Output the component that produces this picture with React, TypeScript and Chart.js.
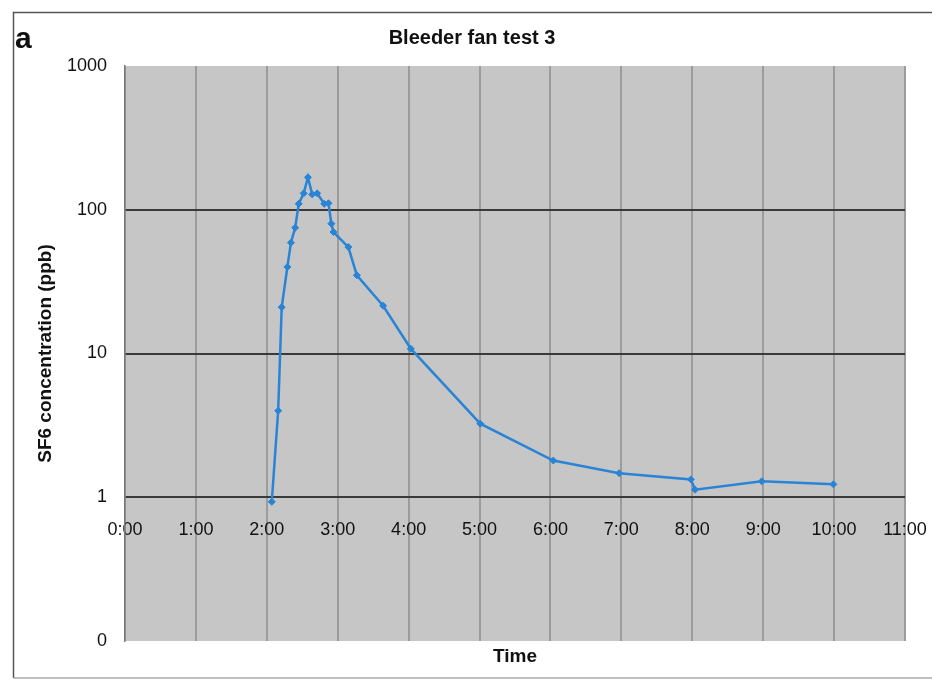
import React, { useEffect, useRef } from 'react';
import { Chart, registerables } from 'chart.js';

Chart.register(...registerables);

const TITLE = 'Bleeder fan test 3';
const PANEL_LABEL = 'a';
const Y_TITLE = 'SF6 concentration (ppb)';
const X_TITLE = 'Time';

// elapsed time in hours
const timeHours = [
  2.07, 2.16, 2.21, 2.29, 2.34, 2.4, 2.45, 2.52, 2.58, 2.64, 2.71, 2.81, 2.87,
  2.91, 2.94, 3.15, 3.27, 3.64, 4.03, 5.01, 6.04, 6.97, 7.98, 8.04, 8.98, 9.99,
];
// SF6 concentration in ppb
const sf6Ppb = [
  0.93, 4.0, 21, 40, 59, 75, 110, 130, 168, 128, 130, 110, 111,
  80, 70, 55, 35, 21.5, 10.8, 3.25, 1.8, 1.47, 1.33, 1.13, 1.29, 1.23,
];

const xTickValues = [0, 1, 2, 3, 4, 5, 6, 7, 8, 9, 10, 11];
const xTickLabels = ['0:00', '1:00', '2:00', '3:00', '4:00', '5:00', '6:00', '7:00', '8:00', '9:00', '10:00', '11:00'];
const yTickValues = [0.1, 1, 10, 100, 1000];
const yTickLabels = ['0', '1', '10', '100', '1000'];
const yMajorLines = [1, 10, 100];

const FONT = 'Liberation Sans, Arial, Helvetica, sans-serif';
const W = 932;
const H = 682;

const decorPlugin = {
  id: 'decor',
  beforeDraw(chart: any) {
    const { ctx, chartArea } = chart;
    ctx.save();
    ctx.fillStyle = '#c6c6c6';
    ctx.fillRect(chartArea.left, chartArea.top, chartArea.right - chartArea.left, chartArea.bottom - chartArea.top);
    ctx.restore();
  },
  afterDraw(chart: any) {
    const { ctx } = chart;
    ctx.save();
    ctx.strokeStyle = '#555';
    ctx.lineWidth = 1.5;
    ctx.beginPath();
    ctx.moveTo(W + 5, 12.5);
    ctx.lineTo(13.5, 12.5);
    ctx.lineTo(13.5, 678);
    ctx.stroke();
    ctx.strokeStyle = '#aaa';
    ctx.beginPath();
    ctx.moveTo(13.5, 678);
    ctx.lineTo(W + 5, 678);
    ctx.stroke();
    ctx.fillStyle = '#111';
    ctx.font = `bold 30px ${FONT}`;
    ctx.textBaseline = 'alphabetic';
    ctx.textAlign = 'left';
    ctx.fillText(PANEL_LABEL, 15, 48);
    ctx.font = `bold 20px ${FONT}`;
    ctx.textAlign = 'center';
    ctx.textBaseline = 'middle';
    ctx.fillText(TITLE, 472, 38);
    ctx.restore();
  },
};

export default function App() {
  const canvasRef = useRef<HTMLCanvasElement | null>(null);

  useEffect(() => {
    document.body.style.margin = '0';
    document.body.style.overflow = 'hidden';
    const canvas = canvasRef.current;
    if (!canvas) return;
    Chart.defaults.font.family = FONT;
    const chart = new Chart(canvas, {
      type: 'line',
      data: {
        datasets: [
          {
            data: timeHours.map((t, i) => ({ x: t, y: sf6Ppb[i] })),
            borderColor: '#2a84d6',
            backgroundColor: '#2a84d6',
            borderWidth: 2.5,
            pointStyle: 'rectRot',
            pointRadius: 3.5,
            pointBorderWidth: 1,
            tension: 0,
            fill: false,
            xAxisID: 'x',
            yAxisID: 'y',
          },
        ],
      },
      options: {
        animation: false,
        responsive: false,
        devicePixelRatio: 1,
        layout: { padding: { left: 0, right: 27, top: 66, bottom: 0 } },
        plugins: {
          legend: { display: false },
          tooltip: { enabled: false },
          title: { display: false },
        },
        scales: {
          x: {
            type: 'linear',
            position: { y: 1 } as any,
            min: 0,
            max: 11,
            afterBuildTicks: (s: any) => {
              s.ticks = xTickValues.map((v) => ({ value: v }));
            },
            afterFit: (s: any) => {
              s.paddingLeft = 0;
              s.paddingRight = 0;
            },
            ticks: {
              autoSkip: false,
              maxRotation: 0,
              padding: 22,
              color: '#111',
              font: { size: 18, family: FONT },
              callback: (v: any) => {
                const i = xTickValues.indexOf(Number(v));
                return i >= 0 ? xTickLabels[i] : '';
              },
            },
            grid: { color: '#9c9c9c', lineWidth: 2, drawTicks: false },
            border: { display: false },
          },
          x2: {
            type: 'linear',
            position: 'bottom',
            min: 0,
            max: 11,
            ticks: { display: false },
            grid: { display: false, drawTicks: false },
            border: { display: false },
            title: {
              display: true,
              text: X_TITLE,
              color: '#111',
              font: { size: 19, weight: 'bold', family: FONT },
              padding: { top: 6, bottom: 13.6 },
            },
            afterFit: (s: any) => {
              s.height = 41;
              s.paddingLeft = 0;
              s.paddingRight = 0;
            },
          },
          y: {
            type: 'logarithmic',
            position: 'left',
            min: 0.1,
            max: 1000,
            afterBuildTicks: (s: any) => {
              s.ticks = yTickValues.map((v) => ({ value: v }));
            },
            afterFit: (s: any) => {
              s.width = 125;
            },
            ticks: {
              padding: 18,
              color: '#111',
              font: { size: 18, family: FONT },
              callback: (v: any) => {
                const i = yTickValues.indexOf(Number(v));
                return i >= 0 ? yTickLabels[i] : '';
              },
            },
            grid: {
              drawTicks: false,
              lineWidth: 2,
              color: (ctx: any) =>
                ctx.tick && yMajorLines.includes(ctx.tick.value) ? '#3a3a3a' : 'rgba(0,0,0,0)',
            },
            border: { display: true, color: '#7a7a7a', width: 1.5 },
            title: {
              display: true,
              text: Y_TITLE,
              color: '#111',
              font: { size: 19, weight: 'bold', family: FONT },
              padding: { top: 34.6, bottom: 0 },
            },
          },
        },
      },
      plugins: [decorPlugin],
    } as any);
    return () => chart.destroy();
  }, []);

  return (
    <div style={{ position: 'relative', width: W, height: H, background: '#fff', overflow: 'hidden' }}>
      <canvas ref={canvasRef} width={W} height={H} style={{ display: 'block', width: W, height: H }} />
    </div>
  );
}
